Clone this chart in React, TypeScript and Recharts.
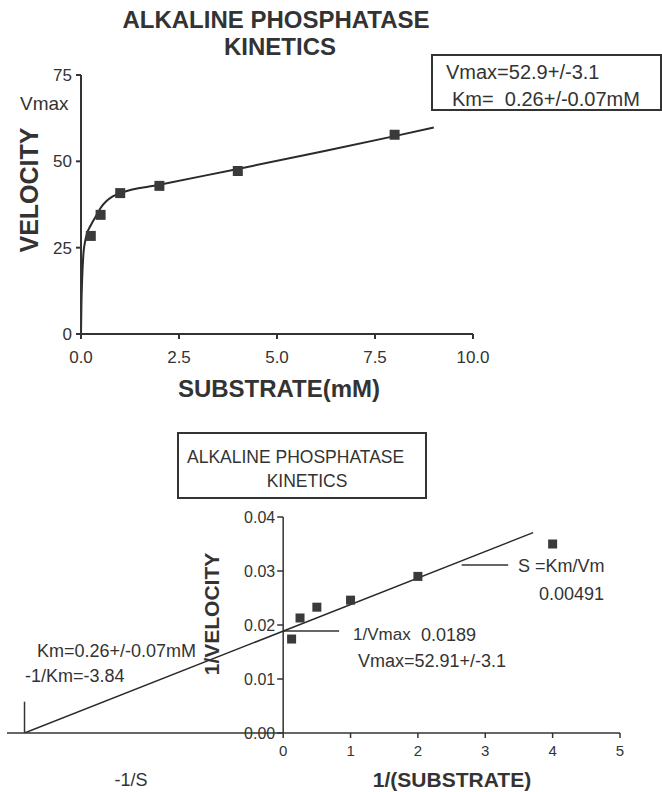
import { ComposedChart, Line, Scatter, XAxis, YAxis, ReferenceLine, ReferenceDot } from 'recharts'

// Michaelis-Menten plot (top)
const substrate = [0.25, 0.5, 1, 2, 4, 8]
const velocity = [28.4, 34.5, 40.8, 42.9, 47.2, 57.7]
// fitted curve
const fitS = [0, 0.01, 0.03, 0.06, 0.1, 0.15, 0.25, 0.4, 0.5, 0.65, 0.8, 1, 2, 4, 6, 8, 9]
const fitV = [0, 8, 16, 23, 26.5, 29, 31.5, 34.5, 36.5, 38.5, 39.8, 40.8, 43.2, 47.8, 52.5, 57.3, 59.8]
const topXTicks = [0, 2.5, 5, 7.5, 10]
const topYTicks = [0, 25, 50, 75]

// Lineweaver-Burk plot (bottom)
const invS = [0.125, 0.25, 0.5, 1, 2, 4]
const invV = [0.0174, 0.0213, 0.0233, 0.0246, 0.029, 0.035]
const lbFitX = [-3.84, 3.71]
const lbFitY = [0, 0.0371]
const bottomXTicks = [0, 1, 2, 3, 4, 5]
const bottomYTicks = [0, 0.01, 0.02, 0.03, 0.04]
const invVmax = 0.0189
const negInvKm = -3.84

const INK = '#333'
const FONT = '"Liberation Sans", Arial, sans-serif'

const topPoints = substrate.map((x, i) => ({ x, y: velocity[i] }))
const topCurve = fitS.map((x, i) => ({ x, y: fitV[i] }))
const lbPoints = invS.map((x, i) => ({ x, y: invV[i] }))
const lbLine = lbFitX.map((x, i) => ({ x, y: lbFitY[i] }))

const square = (size: number) => (p: any) => (
  <rect x={p.cx - size / 2} y={p.cy - size / 2} width={size} height={size} fill="#3a3a3a" />
)

const yTick = (label: string) => (p: any) => (
  <g>
    <line x1={p.cx - 6} y1={p.cy} x2={p.cx} y2={p.cy} stroke={INK} strokeWidth={1.5} />
    <text x={p.cx - 8} y={p.cy} dy="0.35em" textAnchor="end" fontSize={16} fill={INK} fontFamily={FONT}>
      {label}
    </text>
  </g>
)

function TopChart() {
  return (
    <ComposedChart width={662} height={400} margin={{ top: 75, right: 189, bottom: 36, left: 0 }}>
      <XAxis
        type="number"
        dataKey="x"
        domain={[0, 10]}
        ticks={topXTicks}
        tickFormatter={(v) => v.toFixed(1)}
        tick={{ fontSize: 17, fill: INK, fontFamily: FONT }}
        axisLine={{ stroke: INK, strokeWidth: 2 }}
        tickLine={{ stroke: INK, strokeWidth: 2 }}
        tickSize={5}
        tickMargin={12}
        height={30}
      />
      <YAxis
        type="number"
        dataKey="y"
        domain={[0, 75]}
        ticks={topYTicks}
        tick={{ fontSize: 17, fill: INK, fontFamily: FONT }}
        axisLine={{ stroke: INK, strokeWidth: 2 }}
        tickLine={{ stroke: INK, strokeWidth: 2 }}
        tickSize={5}
        tickMargin={4}
        width={81}
      />
      <Line data={topCurve} dataKey="y" type="monotone" stroke="#2a2a2a" strokeWidth={2} dot={false} isAnimationActive={false} />
      <Scatter data={topPoints} dataKey="y" shape={square(10)} isAnimationActive={false} />
    </ComposedChart>
  )
}

function BottomChart() {
  return (
    <ComposedChart width={662} height={372} margin={{ top: 97, right: 42, bottom: 29, left: 7 }}>
      <XAxis
        type="number"
        dataKey="x"
        domain={[-4.1, 5]}
        ticks={bottomXTicks}
        tick={{ fontSize: 15, fill: INK, fontFamily: FONT }}
        axisLine={{ stroke: INK, strokeWidth: 1.5 }}
        tickLine={{ stroke: INK, strokeWidth: 1.5 }}
        tickSize={5}
        tickMargin={7}
        height={30}
        allowDataOverflow
      />
      <YAxis type="number" dataKey="y" domain={[0, 0.04]} hide allowDataOverflow />
      <ReferenceLine x={0} stroke={INK} strokeWidth={1.5} ifOverflow="visible" />
      {bottomYTicks.map((v) => (
        <ReferenceDot key={v} x={0} y={v} ifOverflow="visible" shape={yTick(v.toFixed(2))} />
      ))}
      <ReferenceLine
        segment={[{ x: negInvKm, y: 0 }, { x: negInvKm, y: 0.0058 }]}
        stroke={INK}
        strokeWidth={1.5}
      />
      <ReferenceLine
        segment={[{ x: 0, y: invVmax }, { x: 0.83, y: invVmax }]}
        stroke={INK}
        strokeWidth={1.5}
      />
      <ReferenceLine
        segment={[{ x: 2.65, y: 0.0311 }, { x: 3.34, y: 0.0311 }]}
        stroke={INK}
        strokeWidth={1.5}
      />
      <Line data={lbLine} dataKey="y" type="linear" stroke="#2a2a2a" strokeWidth={1.5} dot={false} isAnimationActive={false} />
      <Scatter data={lbPoints} dataKey="y" shape={square(9)} isAnimationActive={false} />
    </ComposedChart>
  )
}

function Annotations() {
  const t = { fill: INK, fontFamily: FONT }
  return (
    <svg width={662} height={792} style={{ position: 'absolute', left: 0, top: 0, pointerEvents: 'none' }}>
      {/* top plot */}
      <text x={276} y={28} textAnchor="middle" fontSize={24} fontWeight="bold" {...t}>ALKALINE PHOSPHATASE</text>
      <text x={280} y={55} textAnchor="middle" fontSize={24} fontWeight="bold" {...t}>KINETICS</text>
      <text x={20} y={110} fontSize={19} {...t}>Vmax</text>
      <text x={38} y={190} transform="rotate(-90 38 190)" textAnchor="middle" fontSize={25} fontWeight="bold" {...t}>VELOCITY</text>
      <text x={279} y={397} textAnchor="middle" fontSize={24} fontWeight="bold" {...t}>SUBSTRATE(mM)</text>
      <rect x={432} y={55} width={229} height={55} fill="none" stroke={INK} strokeWidth={2} />
      <text x={446} y={79} fontSize={20} {...t}>Vmax=52.9+/-3.1</text>
      <text x={452} y={106} fontSize={20} style={{ whiteSpace: 'pre' }} {...t}>{'Km=  0.26+/-0.07mM'}</text>

      {/* bottom plot */}
      <rect x={178} y={433} width={248} height={65} fill="none" stroke={INK} strokeWidth={2} />
      <text x={187} y={463} fontSize={17.5} {...t}>ALKALINE PHOSPHATASE</text>
      <text x={307} y={487} textAnchor="middle" fontSize={17.5} {...t}>KINETICS</text>
      <text x={219} y={614} transform="rotate(-90 219 614)" textAnchor="middle" fontSize={21} fontWeight="bold" {...t}>1/VELOCITY</text>
      <text x={353} y={640} fontSize={17} {...t}>1/Vmax</text>
      <text x={421} y={641} fontSize={18} {...t}>0.0189</text>
      <text x={358} y={667} fontSize={18} {...t}>Vmax=52.91+/-3.1</text>
      <text x={518} y={572} fontSize={18} {...t}>S =Km/Vm</text>
      <text x={539} y={600} fontSize={18} {...t}>0.00491</text>
      <text x={37} y={657} fontSize={18} {...t}>Km=0.26+/-0.07mM</text>
      <text x={25} y={682} fontSize={18} {...t}>-1/Km=-3.84</text>
      <text x={131} y={786} textAnchor="middle" fontSize={18} {...t}>-1/S</text>
      <text x={452} y={787} textAnchor="middle" fontSize={21} fontWeight="bold" {...t}>1/(SUBSTRATE)</text>
    </svg>
  )
}

export default function App() {
  return (
    <div style={{ position: 'absolute', left: 0, top: 0, width: 662, height: 792, background: '#fff', fontFamily: FONT }}>
      <div style={{ position: 'absolute', left: 0, top: 0 }}>
        <TopChart />
      </div>
      <div style={{ position: 'absolute', left: 0, top: 420 }}>
        <BottomChart />
      </div>
      <Annotations />
    </div>
  )
}
